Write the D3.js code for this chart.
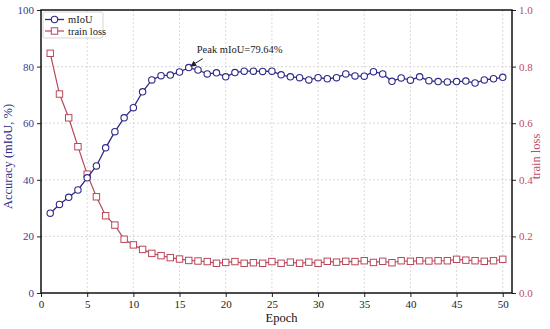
<!DOCTYPE html>
<html><head><meta charset="utf-8">
<script src="https://cdn.jsdelivr.net/npm/d3@7"></script>
<style>body{margin:0;background:#fff}svg{display:block}</style>
</head><body><svg id="c" width="550" height="329"></svg>
<script>
const epochs = d3.range(1, 51);
const miou = [28.2,31.3,33.8,36.4,40.7,44.9,51.3,57.0,61.9,65.5,
  71.1,75.3,76.8,77.0,78.1,79.64,78.8,77.4,77.8,76.4,
  77.9,78.4,78.4,78.3,78.4,77.1,76.4,76.1,75.3,76.1,
  75.7,76.1,77.4,76.7,76.6,78.2,77.4,74.8,76.0,75.2,
  76.4,75.0,74.7,74.6,74.7,74.9,74.2,75.3,75.7,76.2];
const loss = [0.847,0.703,0.619,0.517,0.420,0.340,0.273,0.240,0.190,0.170,
  0.154,0.140,0.132,0.125,0.120,0.115,0.113,0.111,0.105,0.108,
  0.111,0.105,0.107,0.105,0.111,0.105,0.109,0.105,0.109,0.105,
  0.112,0.109,0.112,0.111,0.114,0.108,0.112,0.107,0.114,0.112,
  0.114,0.113,0.114,0.114,0.119,0.116,0.114,0.112,0.114,0.119];
const xTicks = [0,5,10,15,20,25,30,35,40,45,50];
const yTicks = [0,20,40,60,80,100];
const lossTicks = [0,0.2,0.4,0.6,0.8,1.0];
const peakLabel = "Peak mIoU=79.64%";

const blue = "#2e2a86", red = "#b8475a";
const font = "Liberation Serif, Times New Roman, serif";
const m = {l:41, r:512, t:10, b:293};
const svg = d3.select("#c");
const x = d3.scaleLinear().domain([0,51]).range([m.l, m.r]);
const y = d3.scaleLinear().domain([0,100]).range([m.b, m.t]);
const y2 = d3.scaleLinear().domain([0,1]).range([m.b, m.t]);

// grid
const g = svg.append("g").attr("stroke","#cfcfcf").attr("stroke-dasharray","2,2").attr("stroke-width",0.8);
xTicks.slice(1).forEach(t=>g.append("line").attr("x1",x(t)).attr("x2",x(t)).attr("y1",m.t).attr("y2",m.b));
yTicks.slice(1,-1).forEach(t=>g.append("line").attr("x1",m.l).attr("x2",m.r).attr("y1",y(t)).attr("y2",y(t)));

// axes
const ax = svg.append("g").attr("transform",`translate(0,${m.b})`)
  .call(d3.axisBottom(x).tickValues(xTicks).tickSize(4).tickPadding(3));
ax.select(".domain").remove();
ax.selectAll("text").attr("fill","#222").style("font-family",font).style("font-size","11px");
ax.selectAll("line").attr("stroke","#222");
const ayl = svg.append("g").attr("transform",`translate(${m.l},0)`)
  .call(d3.axisLeft(y).tickValues(yTicks).tickSize(4).tickPadding(3));
ayl.select(".domain").remove();
ayl.selectAll("text").attr("fill","#3a3a90").style("font-family",font).style("font-size","11px");
ayl.selectAll("line").attr("stroke","#222");
const ayr = svg.append("g").attr("transform",`translate(${m.r},0)`)
  .call(d3.axisRight(y2).tickValues(lossTicks).tickSize(4).tickPadding(3).tickFormat(d3.format(".1f")));
ayr.select(".domain").remove();
ayr.selectAll("text").attr("fill","#c04a66").style("font-family",font).style("font-size","11px");
ayr.selectAll("line").attr("stroke","#222");

svg.append("rect").attr("x",m.l).attr("y",m.t).attr("width",m.r-m.l).attr("height",m.b-m.t)
  .attr("fill","none").attr("stroke","#111").attr("stroke-width",1.5);

// loss line
svg.append("path").datum(loss).attr("fill","none").attr("stroke",red).attr("stroke-width",1.2)
  .attr("d", d3.line().x((d,i)=>x(epochs[i])).y(d=>y2(d)));
svg.append("g").selectAll("rect").data(loss).join("rect")
  .attr("x",(d,i)=>x(epochs[i])-3.2).attr("y",d=>y2(d)-3.2).attr("width",6.4).attr("height",6.4)
  .attr("fill","#fff").attr("stroke",red).attr("stroke-width",1);

// miou line
svg.append("path").datum(miou).attr("fill","none").attr("stroke",blue).attr("stroke-width",1.3)
  .attr("d", d3.line().x((d,i)=>x(epochs[i])).y(d=>y(d)));
svg.append("g").selectAll("circle").data(miou).join("circle")
  .attr("cx",(d,i)=>x(epochs[i])).attr("cy",d=>y(d)).attr("r",3.2)
  .attr("fill","#fff").attr("stroke",blue).attr("stroke-width",1.1);

// annotation
const pk = d3.maxIndex(miou);
const px = x(epochs[pk]), py = y(miou[pk]);
svg.append("defs").append("marker").attr("id","ah").attr("viewBox","0 0 10 10").attr("refX",9).attr("refY",5)
  .attr("markerWidth",6).attr("markerHeight",6).attr("orient","auto")
  .append("path").attr("d","M0,0L10,5L0,10z").attr("fill","#222");
svg.append("line").attr("x1",px+14).attr("y1",py-9).attr("x2",px+2).attr("y2",py-1.5)
  .attr("stroke","#222").attr("stroke-width",1).attr("marker-end","url(#ah)");
svg.append("text").attr("x",px+8).attr("y",py-15).text(peakLabel)
  .style("font-family",font).style("font-size","10.5px").attr("fill","#222");

// legend
const lg = svg.append("g");
lg.append("rect").attr("x",43).attr("y",12).attr("width",60).attr("height",26).attr("fill","#fff")
  .attr("stroke","#ccc").attr("stroke-width",0.8).attr("rx",2);
lg.append("line").attr("x1",45).attr("x2",64).attr("y1",19.5).attr("y2",19.5).attr("stroke",blue).attr("stroke-width",1.3);
lg.append("circle").attr("cx",54.5).attr("cy",19.5).attr("r",3.2).attr("fill","#fff").attr("stroke",blue).attr("stroke-width",1.1);
lg.append("line").attr("x1",45).attr("x2",64).attr("y1",31).attr("y2",31).attr("stroke",red).attr("stroke-width",1.2);
lg.append("rect").attr("x",51.3).attr("y",27.8).attr("width",6.4).attr("height",6.4).attr("fill","#fff").attr("stroke",red);
lg.append("text").attr("x",68).attr("y",23).text("mIoU").style("font-family",font).style("font-size","10.5px").attr("fill","#222");
lg.append("text").attr("x",68).attr("y",34.5).text("train loss").style("font-family",font).style("font-size","10.5px").attr("fill","#222");

// axis titles
svg.append("text").attr("x",(m.l+m.r)/2+5).attr("y",322).attr("text-anchor","middle").text("Epoch")
  .style("font-family",font).style("font-size","12.5px").attr("fill","#111");
svg.append("text").attr("transform",`translate(12,${(m.t+m.b)/2+5}) rotate(-90)`).attr("text-anchor","middle")
  .text("Accuracy (mIoU, %)").style("font-family",font).style("font-size","12.5px").attr("fill",blue);
svg.append("text").attr("transform",`translate(540,${(m.t+m.b)/2+5}) rotate(-90)`).attr("text-anchor","middle")
  .text("train loss").style("font-family",font).style("font-size","12.5px").attr("fill","#c04a66");
</script></body></html>
